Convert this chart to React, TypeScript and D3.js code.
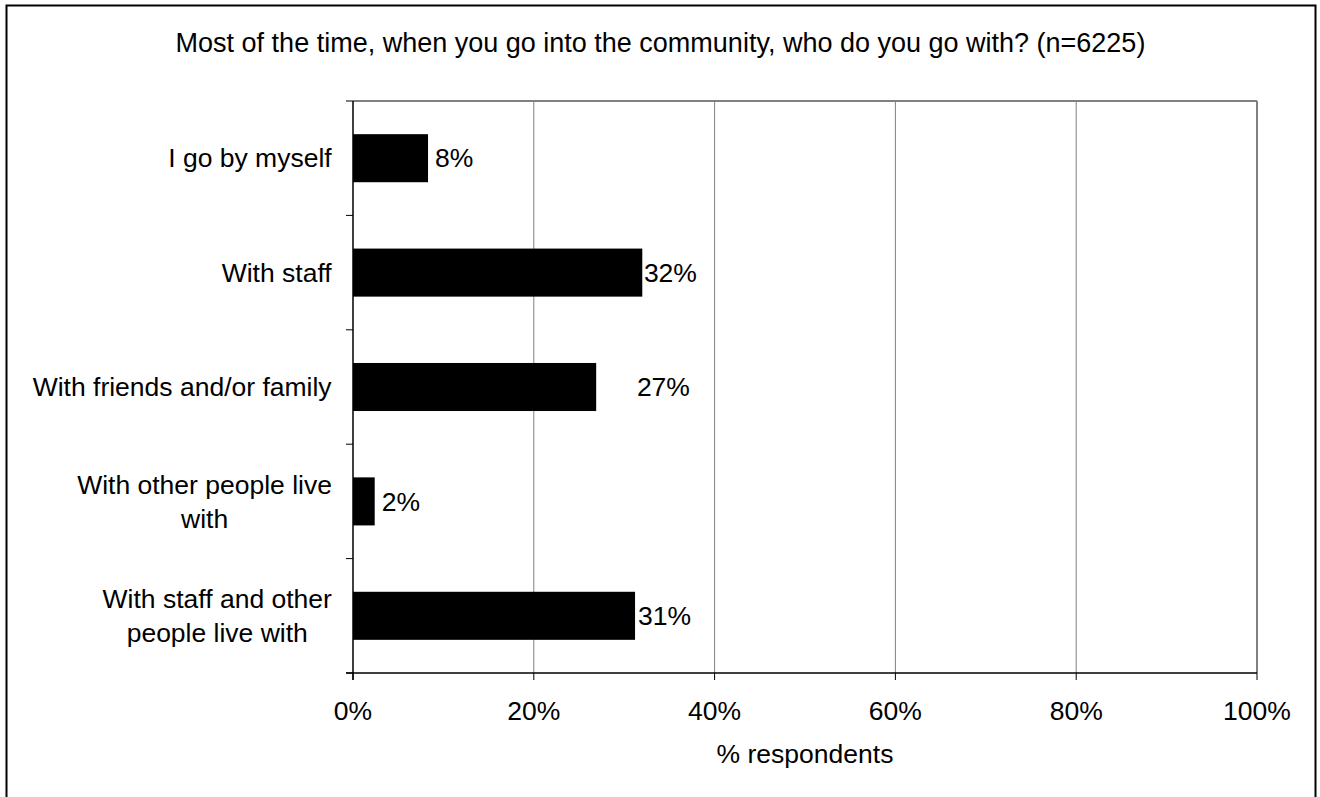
import React from "react";
import * as d3 from "d3";

const categories = [
  ["I go by myself"],
  ["With staff"],
  ["With friends and/or family"],
  ["With other people live", "with"],
  ["With staff and other", "people live with"],
];
const values = [8.3, 32.0, 26.9, 2.4, 31.2];
const valueLabels = ["8%", "32%", "27%", "2%", "31%"];
const xTicks = [0, 20, 40, 60, 80, 100];
const title = "Most of the time, when you go into the community, who do you go with? (n=6225)";
const xTitle = "% respondents";

// horizontal gap between bar end and its value label (px), as laid out in the original
const labelGap = [7, 1.6, 40.7, 7, 3];

function LabelBlock({ lines, right, cy, fs, lh }: { lines: string[]; right: number; cy: number; fs: number; lh: number }) {
  const ref = React.useRef<SVGTextElement>(null);
  const [w, setW] = React.useState(0);
  React.useLayoutEffect(() => {
    if (ref.current) setW(ref.current.getBBox().width);
  }, [lines.join("|")]);
  const cx = right - w / 2;
  const y0 = cy - ((lines.length - 1) * lh) / 2;
  return (
    <text ref={ref} textAnchor="middle" fontSize={fs}>
      {lines.map((l, j) => (
        <tspan key={j} x={cx} y={y0 + j * lh} dy="0.35em">{l}</tspan>
      ))}
    </text>
  );
}

export default function App() {
  const W = 1320, H = 797;
  const left = 353, right = 1257, top = 101, bottom = 673;
  const x = d3.scaleLinear().domain([0, 100]).range([left, right]);
  const y = d3.scaleBand<number>().domain(d3.range(categories.length)).range([top, bottom]).paddingInner(0.58).paddingOuter(0.29);
  const yb = d3.scaleBand<number>().domain(d3.range(categories.length)).range([top, bottom]);
  const font = "'Liberation Sans', Arial, sans-serif";
  const fs = 26.5;
  return (
    <svg width={W} height={H} style={{ position: "absolute", left: 0, top: 0 }} fontFamily={font}>
      <rect x={0} y={0} width={W} height={H} fill="#fff" />
      <rect x={6.5} y={5.5} width={1309} height={H} fill="none" stroke="#000" strokeWidth={2} />
      <text x={660.5} y={52} textAnchor="middle" fontSize={27}>{title}</text>
      {xTicks.slice(1).map((t) => (
        <line key={t} x1={x(t)} x2={x(t)} y1={top} y2={bottom} stroke="#808080" strokeWidth={t === 100 ? 2 : 1} />
      ))}
      <line x1={left} x2={right} y1={top} y2={top} stroke="#808080" strokeWidth={2} />
      {values.map((v, i) => (
        <rect key={i} x={x(0)} y={y(i)!} width={x(v) - x(0)} height={y.bandwidth()} fill="#000" />
      ))}
      {values.map((v, i) => (
        <text key={i} x={x(v) + labelGap[i]} y={y(i)! + y.bandwidth() / 2} dy="0.35em" fontSize={fs}>{valueLabels[i]}</text>
      ))}
      <line x1={left} x2={left} y1={top} y2={bottom + 7} stroke="#000" strokeWidth={1.5} />
      <line x1={left - 7} x2={right} y1={bottom} y2={bottom} stroke="#000" strokeWidth={1.5} />
      {d3.range(categories.length + 1).map((i) => {
        const yy = i < categories.length ? yb(i)! : bottom;
        return <line key={i} x1={left - 7} x2={left} y1={yy} y2={yy} stroke="#000" strokeWidth={1} />;
      })}
      {xTicks.map((t) => (
        <g key={t}>
          <line x1={x(t)} x2={x(t)} y1={bottom} y2={bottom + 7} stroke="#000" strokeWidth={1} />
          <text x={x(t)} y={720} textAnchor="middle" fontSize={fs}>{t}%</text>
        </g>
      ))}
      {categories.map((lines, i) => (
        <LabelBlock key={i} lines={lines} right={332} cy={y(i)! + y.bandwidth() / 2} fs={fs} lh={34} />
      ))}
      <text x={805} y={763} textAnchor="middle" fontSize={fs}>{xTitle}</text>
    </svg>
  );
}
